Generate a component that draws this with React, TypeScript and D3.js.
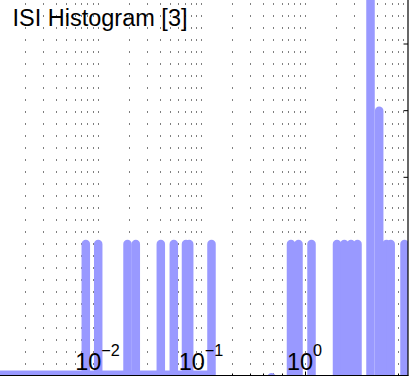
import React from "react";
import * as d3 from "d3";

// ISI bin centres (seconds) and counts
const isiCenters = [
  0.007708, 0.01016, 0.0195, 0.02344, 0.04089, 0.05461, 0.07162, 0.07691,
  0.1263, 0.4799, 0.7405, 0.875, 1.169, 2.061, 2.424, 2.814, 3.252, 4.342,
  5.268, 6.199, 6.806, 9.251,
];
const counts = [
  1, 1, 1, 1, 1, 1, 1, 1, 1, 0, 1, 1, 1, 1, 1, 1, 1, 3, 2, 1, 1, 1,
];
// run of empty bins drawn along the baseline
const emptyRun = [0.0008, 0.13];
const decadeTicks = [0.01, 0.1, 1];
const decadeExponents = ["\u22122", "\u22121", "0"];
const yTicks = [0.5, 1, 1.5, 2, 2.5];
const title = "ISI Histogram [3]";

const W = 417;
const H = 377;
const right = 408;
const bottom = 375.5;
const barColor = "#9999ff";
const font = "'Liberation Sans', Arial, Helvetica, sans-serif";

export default function App() {
  const x = d3.scaleLog().domain([0.01, 10]).range([97.5, right]);
  const y = d3.scaleLinear().domain([0, 2.5]).range([377.3, 44]);

  // grid positions: every 1..9 x 10^k inside the visible range
  const gridVals: number[] = [];
  for (let k = -4; k <= 0; k++) {
    for (let m = 1; m <= 9; m++) {
      const v = m * Math.pow(10, k);
      const px = x(v);
      if (px > 0 && px < right - 1) gridVals.push(v);
    }
  }

  return (
    <svg
      width={W}
      height={H}
      style={{ position: "absolute", left: 0, top: 0, background: "#fff" }}
    >
      <defs>
        <clipPath id="plot">
          <rect x={-50} y={-50} width={right + 50} height={bottom + 50} />
        </clipPath>
      </defs>
      <rect x={0} y={0} width={W} height={H} fill="#fff" />
      {/* dotted grid */}
      {gridVals.map((v, i) => {
        const px = Math.round(x(v)) + 0.5;
        return (
          <line
            key={"g" + i}
            x1={px}
            x2={px}
            y1={0}
            y2={bottom}
            stroke="#000"
            strokeWidth={1}
            strokeDasharray="1 11"
            strokeDashoffset={8.5}
          />
        );
      })}
      {/* ticks */}
      {yTicks.map((t, i) => (
        <line
          key={"yt" + i}
          x1={right - 4.5}
          x2={right}
          y1={y(t)}
          y2={y(t)}
          stroke="#000"
          strokeWidth={1}
        />
      ))}
      {gridVals.map((v, i) => {
        const major = Math.abs(Math.log10(v) - Math.round(Math.log10(v))) < 1e-6;
        const px = Math.round(x(v)) + 0.5;
        return (
          <line
            key={"xt" + i}
            x1={px}
            x2={px}
            y1={bottom}
            y2={bottom - (major ? 4 : 2)}
            stroke="#000"
            strokeWidth={1}
          />
        );
      })}
      <g clipPath="url(#plot)">
        <line
          x1={x(emptyRun[0])}
          x2={x(emptyRun[1])}
          y1={373}
          y2={373}
          stroke={barColor}
          strokeWidth={5}
          strokeLinecap="round"
        />
        {isiCenters.map((c, i) => (
          <line
            key={"b" + i}
            x1={x(c)}
            x2={x(c)}
            y1={y(0)}
            y2={y(counts[i])}
            stroke={barColor}
            strokeWidth={8.5}
            strokeLinecap="round"
          />
        ))}
      </g>
      {/* axes lines */}
      <line x1={right} x2={right} y1={0} y2={bottom} stroke="#000" strokeWidth={1.2} />
      <line x1={0} x2={right + 0.6} y1={bottom} y2={bottom} stroke="#000" strokeWidth={1.2} />
      {/* tick labels */}
      {decadeTicks.map((v, i) => (
        <text
          key={"tl" + i}
          x={x(v)}
          y={369.7}
          textAnchor="middle"
          fontFamily={font}
          fontSize={23.5}
          fill="#000"
        >
          <tspan>10</tspan>
          <tspan fontSize={16.2} dy={-13.4}>
            {decadeExponents[i]}
          </tspan>
        </text>
      ))}
      <text x={12.5} y={26} fontFamily={font} fontSize={23.5} fill="#000">
        {title}
      </text>
    </svg>
  );
}
